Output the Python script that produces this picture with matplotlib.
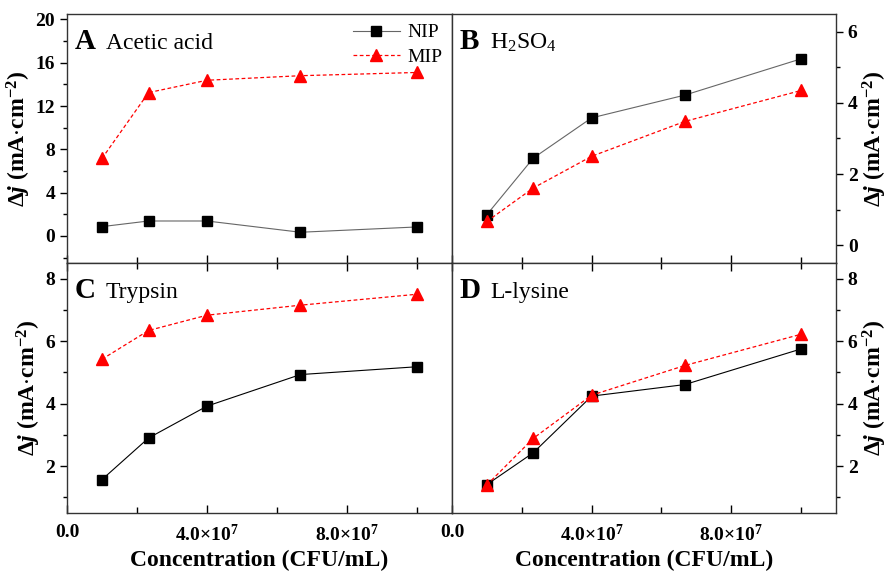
import matplotlib
matplotlib.use("Agg")
import matplotlib.pyplot as plt
from matplotlib.ticker import MultipleLocator, FixedLocator

plt.rcParams['font.family'] = ['Liberation Serif', 'DejaVu Serif']
plt.rcParams['mathtext.fontset'] = 'custom'
plt.rcParams['mathtext.rm'] = 'Liberation Serif'
plt.rcParams['mathtext.it'] = 'Liberation Serif:italic:bold'
plt.rcParams['mathtext.bf'] = 'Liberation Serif:bold'
plt.rcParams['mathtext.default'] = 'regular'

# concentrations (CFU/mL)
conc = [1.0e7, 2.33e7, 4.0e7, 6.67e7, 1.0e8]

# A acetic acid
nip_a = [0.86, 1.38, 1.38, 0.34, 0.83]
mip_a = [7.16, 13.24, 14.38, 14.8, 15.1]
# B H2SO4
nip_b = [0.86, 2.45, 3.58, 4.22, 5.24]
mip_b = [0.67, 1.61, 2.50, 3.48, 4.35]
# C trypsin
nip_c = [1.57, 2.90, 3.92, 4.93, 5.18]
mip_c = [5.42, 6.34, 6.83, 7.15, 7.50]
# D L-lysine
nip_d = [1.41, 2.43, 4.24, 4.61, 5.75]
mip_d = [1.40, 2.89, 4.27, 5.22, 6.22]

letters = ['A', 'B', 'C', 'D']
names = ['Acetic acid', 'H$_2$SO$_4$', 'Trypsin', 'L-lysine']
xtick_vals = [0, 4e7, 8e7]
xtick_labels = ['0.0', r'4.0$\times$10$^{7}$', r'8.0$\times$10$^{7}$']

ylabel = r'$\Delta\mathit{j}$ (mA$\cdot$cm$^{-2}$)'

fig = plt.figure(figsize=(8.9, 5.77), dpi=100)

L, M, R = 67/890, 452/890, 836/890
T, C, B = 1-14/577, 1-263/577, 1-513/577

axA = fig.add_axes([L, C, M-L, T-C])
axB = fig.add_axes([M, C, R-M, T-C])
axC = fig.add_axes([L, B, M-L, C-B])
axD = fig.add_axes([M, B, R-M, C-B])

panels = [
    (axA, nip_a, mip_a, (-2.5, 20.5), 4, 2, '#666666'),
    (axB, nip_b, mip_b, (-0.5, 6.5), 2, 1, '#666666'),
    (axC, nip_c, mip_c, (0.5, 8.5), 2, 1, 'black'),
    (axD, nip_d, mip_d, (0.5, 8.5), 2, 1, 'black'),
]

for i, (ax, nip, mip, ylim, ymaj, ymin, lc) in enumerate(panels):
    ax.plot(conc, nip, '-', color=lc, lw=0.8, marker='s', ms=7,
            mfc='black', mec='black', label='NIP')
    ax.plot(conc, mip, '--', color='red', lw=0.9, dashes=(3, 2), marker='^',
            ms=9, mfc='red', mec='red', label='MIP')
    ax.set_xlim(0, 1.1e8)
    ax.set_ylim(*ylim)
    ax.xaxis.set_major_locator(FixedLocator(xtick_vals))
    ax.xaxis.set_minor_locator(FixedLocator([2e7, 6e7, 1e8]))
    ax.yaxis.set_major_locator(MultipleLocator(ymaj))
    ax.yaxis.set_minor_locator(MultipleLocator(ymin))
    for sp in ax.spines.values():
        sp.set_color('#333333')
        sp.set_linewidth(1.0)

    right = i in (1, 3)
    bottom = i in (2, 3)
    ax.tick_params(axis='x', which='both', direction='in', top=(i >= 2),
                   bottom=True, labelbottom=bottom, width=1.0, pad=8)
    ax.tick_params(axis='x', which='major', length=6)
    ax.tick_params(axis='x', which='minor', length=4)
    if right:
        ax.yaxis.tick_right()
        ax.yaxis.set_label_position('right')
    ax.tick_params(axis='y', which='both', direction='out', left=not right,
                   right=right, labelleft=not right, labelright=right, width=1.0)
    ax.tick_params(axis='y', which='major', length=5)
    ax.tick_params(axis='y', which='minor', length=3)
    ax.tick_params(labelsize=14)
    for lab in ax.get_yticklabels() + ax.get_xticklabels():
        lab.set_fontweight('bold')
    if bottom:
        ax.set_xticklabels(xtick_labels, fontweight='bold', fontsize=14)
        ax.set_xlabel('Concentration (CFU/mL)', fontsize=17, fontweight='bold',
                      labelpad=3)
    ax.set_ylabel(ylabel, fontsize=17, fontweight='bold', labelpad=2)

    ax.text(0.02, 0.86, letters[i], transform=ax.transAxes, fontsize=21,
            fontweight='bold', va='baseline')
    ax.text(0.10, 0.86, names[i], transform=ax.transAxes, fontsize=17,
            va='baseline')

axA.legend(loc='upper right', frameon=False, fontsize=14, handlelength=2.4,
           borderaxespad=0.1, labelspacing=0.35, handletextpad=0.4)

fig.savefig('out.png', dpi=100)
